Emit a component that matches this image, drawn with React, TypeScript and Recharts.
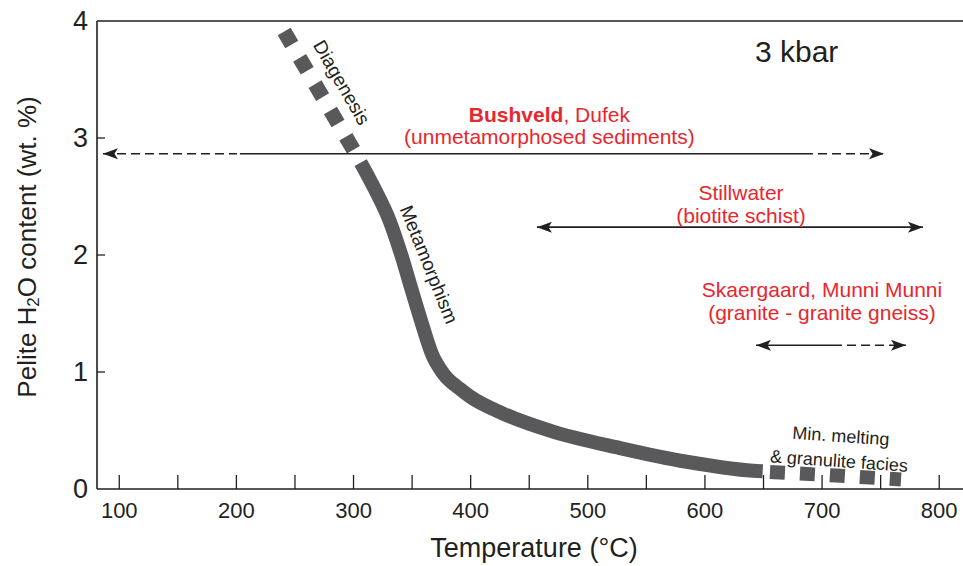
import React from 'react'
import { ComposedChart, Line, XAxis, YAxis, ReferenceLine, ReferenceDot } from 'recharts'

// pelite H2O content (wt. %) vs temperature (°C) at 3 kbar
const diagenesis = [
  { t: 240.8, w: 3.91 },
  { t: 300.2, w: 2.895 },
]
const metamorphism = [
  { t: 306.1, w: 2.79 },
  { t: 318.3, w: 2.56 },
  { t: 331.1, w: 2.285 },
  { t: 341.1, w: 1.99 },
  { t: 349.7, w: 1.7 },
  { t: 358.2, w: 1.42 },
  { t: 366.7, w: 1.16 },
  { t: 376.4, w: 0.99 },
  { t: 390.9, w: 0.855 },
  { t: 399.4, w: 0.79 },
  { t: 427.6, w: 0.645 },
  { t: 470.3, w: 0.49 },
  { t: 527.5, w: 0.35 },
  { t: 584.4, w: 0.233 },
  { t: 641, w: 0.156 },
  { t: 649.3, w: 0.151 },
]
const melting = [
  { t: 655.5, w: 0.145 },
  { t: 711.9, w: 0.115 },
  { t: 767.4, w: 0.081 },
]

// temperature ranges of the intrusions' country rocks
const bushveldLeft = [{ t: 86.1, w: 2.866 }, { t: 200.5, w: 2.866 }]
const bushveldMid = [{ t: 203, w: 2.866 }, { t: 692.2, w: 2.866 }]
const bushveldRight = [{ t: 696.5, w: 2.866 }, { t: 752.9, w: 2.866 }]
const stillwater = [{ t: 456.6, w: 2.237 }, { t: 786.1, w: 2.237 }]
const skaergaardSolid = [{ t: 643.6, w: 1.228 }, { t: 709.3, w: 1.228 }]
const skaergaardDash = [{ t: 709.3, w: 1.228 }, { t: 771.6, w: 1.228 }]

const xTicks = [100, 150, 200, 250, 300, 350, 400, 450, 500, 550, 600, 650, 700, 750, 800]
const yTicks = [0, 1, 2, 3, 4]

const INK = '#231f20'
const RED = '#e8262d'
const CURVE = '#59595b'
const FONT = '"Liberation Sans", Arial, Helvetica, sans-serif'

const XTick = (props: any) => {
  const { x, y, payload } = props
  const v = payload.value
  return (
    <g>
      <line x1={x} x2={x} y1={y} y2={y - 14} stroke={INK} strokeWidth={1.3} />
      {v % 100 === 0 && (
        <text x={x} y={y + 29} textAnchor="middle" fontSize={22} fill={INK} fontFamily={FONT}>
          {v}
        </text>
      )}
    </g>
  )
}

const YTick = (props: any) => {
  const { x, y, payload } = props
  const v = payload.value
  return (
    <g>
      {v > 0 && v < 4 && <line x1={x} x2={x + 8} y1={y} y2={y} stroke={INK} strokeWidth={1.3} />}
      <text x={x - 9} y={y + 9} textAnchor="end" fontSize={27} fill={INK} fontFamily={FONT}>
        {v}
      </text>
    </g>
  )
}

const YTitle = (props: any) => {
  const vb = props.viewBox ?? { x: 0, y: 21, width: 97, height: 468 }
  const cx = vb.x + 27
  const cy = vb.y + vb.height / 2 - 8
  return (
    <text
      x={cx}
      y={cy}
      transform={`rotate(-90 ${cx} ${cy})`}
      textAnchor="middle"
      dominantBaseline="central"
      fontSize={26}
      fill={INK}
      fontFamily={FONT}
    >
      Pelite H<tspan fontSize={17} dy={6}>2</tspan>
      <tspan dy={-6}>O content (wt. %)</tspan>
    </text>
  )
}

const arrowHead = (dir: 'left' | 'right', last: number) => (props: any) => {
  const { cx, cy, index } = props
  const show = dir === 'left' ? index === 0 : index === last
  if (!show) return <g key={`h${index}`} />
  const s = dir === 'left' ? 1 : -1
  const d = `M${cx},${cy} L${cx + s * 15},${cy - 5.5} L${cx + s * 11.5},${cy} L${cx + s * 15},${cy + 5.5} Z`
  return <path key={`h${index}`} d={d} fill={INK} stroke="none" />
}

const note = (key: string, t: number, w: number, render: (x: number, y: number) => React.ReactElement) => (
  <ReferenceDot
    key={key}
    x={t}
    y={w}
    r={0}
    fill="none"
    stroke="none"
    isFront
    label={(p: any) => {
      const vb = p.viewBox || {}
      return render(vb.x, vb.y)
    }}
  />
)

const rotated = (text: string, angle: number, size: number) => (x: number, y: number) => (
  <text
    x={x}
    y={y}
    transform={`rotate(${angle} ${x} ${y})`}
    textAnchor="middle"
    dominantBaseline="central"
    fontSize={size}
    fill={INK}
    fontFamily={FONT}
  >
    {text}
  </text>
)

export default function App() {
  const seg = (data: any[], key: string, dash?: string, dot: any = false) => (
    <Line
      key={key}
      data={data}
      dataKey="w"
      type="linear"
      stroke={INK}
      strokeWidth={1.6}
      strokeDasharray={dash}
      dot={dot}
      activeDot={false}
      isAnimationActive={false}
    />
  )
  return (
    <div style={{ position: 'absolute', left: 0, top: 0, background: '#fff' }}>
      <ComposedChart
        width={963}
        height={566}
        margin={{ top: 21, right: 0, bottom: 0, left: 0 }}
        style={{ fontFamily: FONT }}
      >
        <XAxis
          dataKey="t"
          type="number"
          domain={[81, 820.3]}
          ticks={xTicks}
          allowDataOverflow
          height={77}
          tickSize={0}
          tickMargin={0}
          tick={<XTick />}
          axisLine={{ stroke: INK, strokeWidth: 1.6 }}
          label={{ value: 'Temperature (°C)', position: 'insideBottom', offset: 9, fontSize: 27, fill: INK, dx: 4 }}
        />
        <YAxis
          type="number"
          domain={[0, 4]}
          ticks={yTicks}
          allowDataOverflow
          width={97}
          tickSize={0}
          tickMargin={0}
          tick={<YTick />}
          axisLine={{ stroke: INK, strokeWidth: 1.6 }}
          label={YTitle}
        />
        <ReferenceLine y={4} stroke={INK} strokeWidth={1.6} />

        <Line data={diagenesis} dataKey="w" type="linear" stroke={CURVE} strokeWidth={15} strokeDasharray="15 15.5"
          dot={false} activeDot={false} isAnimationActive={false} />
        <Line data={metamorphism} dataKey="w" type="monotoneX" stroke={CURVE} strokeWidth={14}
          dot={false} activeDot={false} isAnimationActive={false} />
        <Line data={melting} dataKey="w" type="monotoneX" stroke={CURVE} strokeWidth={14} strokeDasharray="15 15"
          dot={false} activeDot={false} isAnimationActive={false} />

        {seg(bushveldLeft, 'bl', '9 5', arrowHead('left', 1))}
        {seg(bushveldMid, 'bm')}
        {seg(bushveldRight, 'br', '9 5', arrowHead('right', 1))}
        {seg(stillwater, 'sw', undefined, arrowHead('left', 1))}
        {seg(stillwater, 'sw2', undefined, arrowHead('right', 1))}
        {seg(skaergaardSolid, 'ss', undefined, arrowHead('left', 1))}
        {seg(skaergaardDash, 'sd', '9 5', arrowHead('right', 1))}

        {note('kbar', 678.3, 3.65, (x, y) => (
          <text x={x} y={y} textAnchor="middle" fontSize={30} fill={INK} fontFamily={FONT}>3 kbar</text>
        ))}
        {note('bush', 467.2, 3.139, (x, y) => (
          <text x={x} y={y} textAnchor="middle" fontSize={21} fill={RED} fontFamily={FONT}>
            <tspan fontWeight="bold">Bushveld</tspan>, Dufek
            <tspan x={x} dy={22}>(unmetamorphosed sediments)</tspan>
          </text>
        ))}
        {note('still', 630.8, 2.473, (x, y) => (
          <text x={x} y={y} textAnchor="middle" fontSize={21} fill={RED} fontFamily={FONT}>
            Stillwater
            <tspan x={x} dy={23}>(biotite schist)</tspan>
          </text>
        ))}
        {note('skaer', 699.9, 1.64, (x, y) => (
          <text x={x} y={y} textAnchor="middle" fontSize={21} fill={RED} fontFamily={FONT}>
            Skaergaard, Munni Munni
            <tspan x={x} dy={23}>(granite - granite gneiss)</tspan>
          </text>
        ))}
        {note('diag', 289.9, 3.474, rotated('Diagenesis', 60, 19))}
        {note('meta', 364.4, 1.919, rotated('Metamorphism', 68, 19))}
        {note('melt1', 716.1, 0.452, rotated('Min. melting', 4, 18))}
        {note('melt2', 714.4, 0.239, rotated('& granulite facies', 4, 18))}
      </ComposedChart>
    </div>
  )
}
